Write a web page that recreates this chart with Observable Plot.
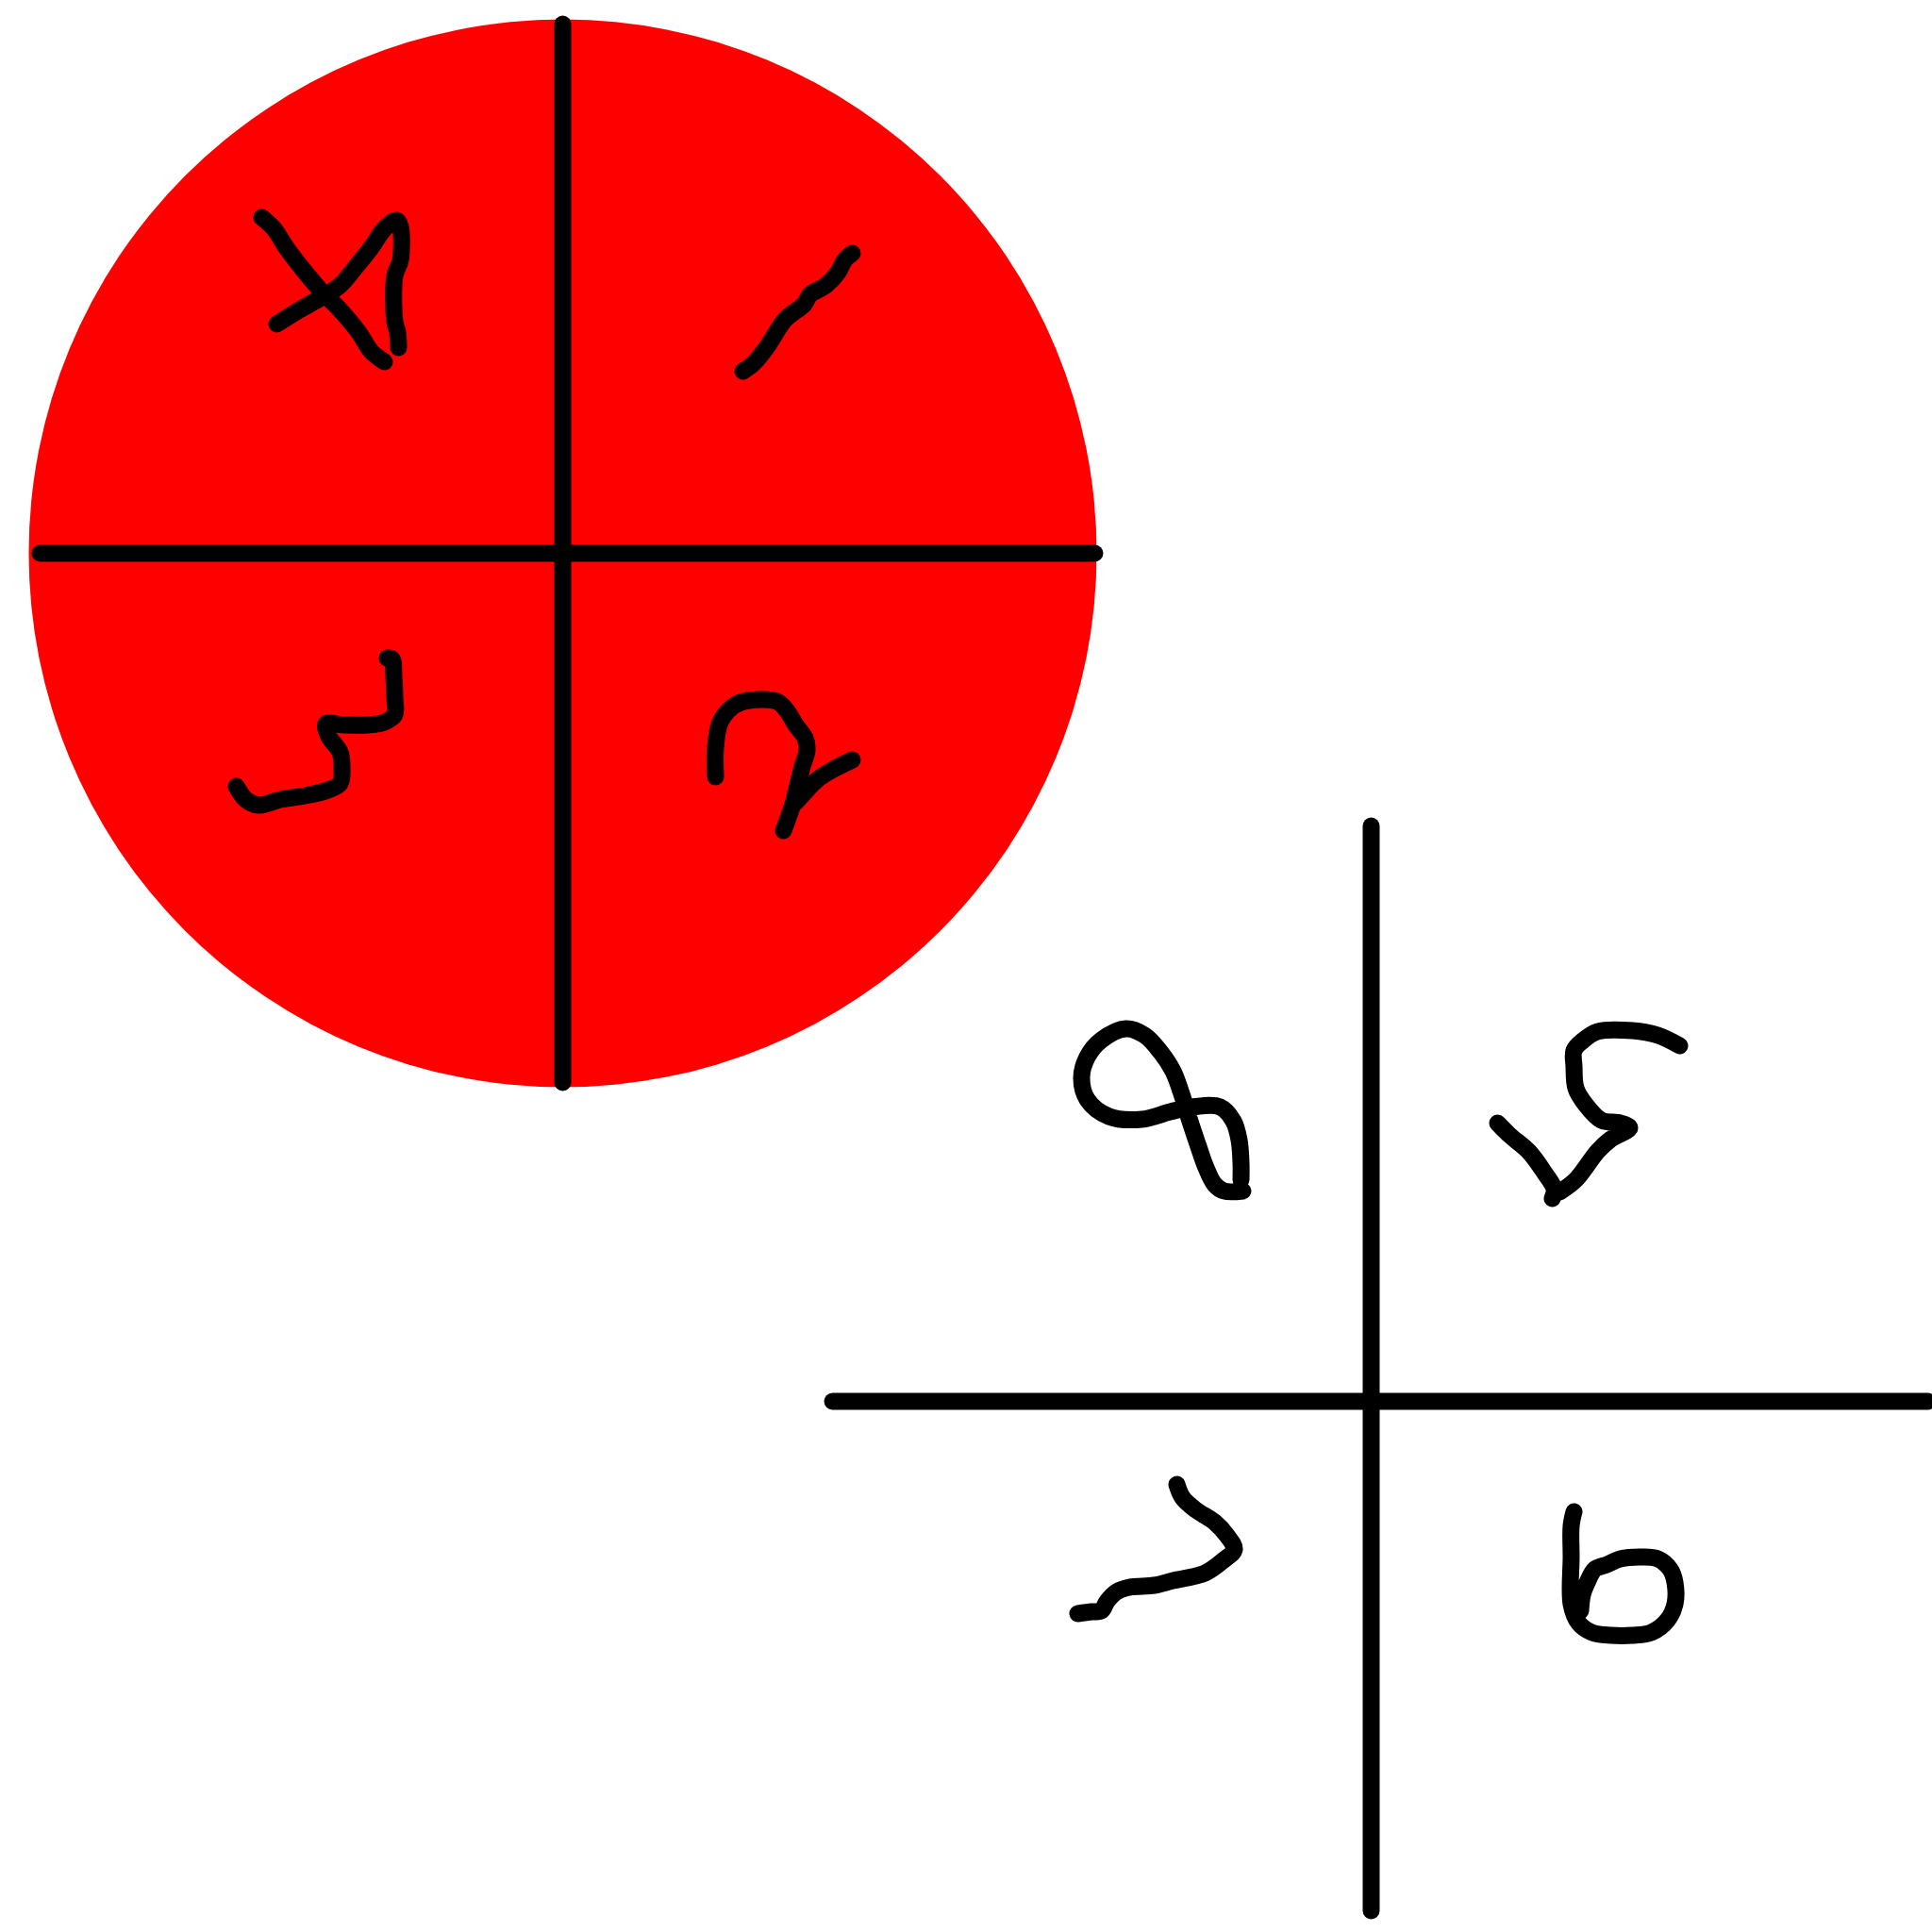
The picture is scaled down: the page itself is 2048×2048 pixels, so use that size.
<!DOCTYPE html>
<html>
<head>
<meta charset="utf-8">
<script src="https://cdn.jsdelivr.net/npm/d3@7"></script>
<script src="https://cdn.jsdelivr.net/npm/@observablehq/plot@0.6"></script>
<style>
  html, body { margin: 0; padding: 0; background: #ffffff; }
  #chart svg { display: block; }
</style>
</head>
<body>
<div id="chart"></div>
<script>
// Canvas extent (sketch coordinates, y grows downward)
const extentX = [0, 2048];
const extentY = [0, 2048];

// Filled disc
const disc = [{x: 596, y: 586, r: 566}];

// Axis strokes (two crosses)
const crossA_vertical   = [[596, 25], [596, 1147]];
const crossA_horizontal = [[42, 586], [1160, 586]];
const crossB_vertical   = [[1453, 875], [1453, 2025]];
const crossB_horizontal = [[882, 1485], [2043, 1485]];

// Hand-written glyph strokes
const glyph1a = [[277,230],[290,242],[303,262],[323,288],[340,308],[360,328],[380,352],[393,372],[407,383]];
const glyph1b = [[293,343],[317,328],[340,315],[360,302],[377,282],[393,262],[407,242],[420,233],[424,240],[424,275],[418,292],[418,340],[421,352],[422,368]];
const glyph2  = [[787,393],[798,385],[812,368],[832,338],[852,322],[858,312],[875,302],[888,288],[895,275],[903,268]];
const glyph3  = [[250,833],[260,847],[273,853],[297,847],[323,843],[347,837],[360,830],[362,813],[360,797],[348,780],[345,767],[363,768],[390,768],[407,765],[418,757],[418,740],[417,717],[415,698],[410,697]];
const glyph4a = [[758,823],[758,792],[763,765],[777,748],[793,742],[823,743],[833,752],[843,768],[853,782],[855,795],[850,812],[845,832],[840,852],[833,872],[830,880]];
const glyph4b = [[903,805],[883,815],[867,825],[852,840],[843,850]];
const glyph5  = [[1315,1250],[1315,1232],[1313,1208],[1307,1188],[1293,1173],[1263,1173],[1240,1178],[1210,1186],[1175,1183],[1152,1165],[1146,1142],[1152,1120],[1167,1102],[1193,1090],[1213,1097],[1230,1115],[1243,1135],[1253,1162],[1260,1185],[1270,1215],[1277,1235],[1287,1255],[1297,1262],[1317,1262]];
const glyph6a = [[1587,1190],[1600,1203],[1620,1220],[1637,1243],[1647,1260],[1645,1270]];
const glyph6b = [[1653,1263],[1670,1250],[1693,1220],[1707,1207],[1727,1195],[1717,1190],[1697,1187],[1680,1170],[1670,1153],[1668,1130],[1668,1113],[1677,1103],[1693,1093],[1730,1092],[1757,1097],[1780,1108]];
const glyph7  = [[1247,1573],[1253,1587],[1267,1600],[1287,1613],[1300,1627],[1308,1642],[1297,1653],[1277,1667],[1243,1675],[1223,1680],[1197,1682],[1183,1687],[1173,1697],[1167,1707],[1157,1708],[1142,1710]];
const glyph8  = [[1668,1602],[1665,1617],[1665,1650],[1665,1700],[1673,1720],[1687,1730],[1707,1733],[1730,1733],[1750,1730],[1767,1717],[1775,1700],[1775,1677],[1770,1663],[1757,1652],[1740,1650],[1717,1652],[1703,1658],[1690,1663],[1682,1677],[1677,1690],[1675,1707]];

const axisStrokes = {crossA_vertical, crossA_horizontal, crossB_vertical, crossB_horizontal};
const glyphStrokes = {glyph1a, glyph1b, glyph2, glyph3, glyph4a, glyph4b, glyph5, glyph6a, glyph6b, glyph7, glyph8};

function toRows(obj) {
  const rows = [];
  for (const [id, pts] of Object.entries(obj)) {
    pts.forEach(([x, y], i) => rows.push({id, i, x, y}));
  }
  return rows;
}
const axisRows = toRows(axisStrokes);
const glyphRows = toRows(glyphStrokes);

const chart = Plot.plot({
  width: 2048,
  height: 2048,
  margin: 0,
  x: {domain: extentX, range: [0, 2048], axis: null},
  y: {domain: extentY, range: [0, 2048], axis: null},
  r: {type: "identity"},
  style: {background: "#ffffff"},
  marks: [
    Plot.dot(disc, {x: "x", y: "y", r: "r", fill: "#ff0000", stroke: "none"}),
    Plot.line(axisRows, {x: "x", y: "y", z: "id", stroke: "#000000", strokeWidth: 18, strokeLinecap: "round", strokeLinejoin: "round", curve: "linear"}),
    Plot.line(glyphRows, {x: "x", y: "y", z: "id", stroke: "#000000", strokeWidth: 18, strokeLinecap: "round", strokeLinejoin: "round", curve: "catmull-rom"})
  ]
});
document.getElementById("chart").appendChild(chart);
</script>
</body>
</html>
